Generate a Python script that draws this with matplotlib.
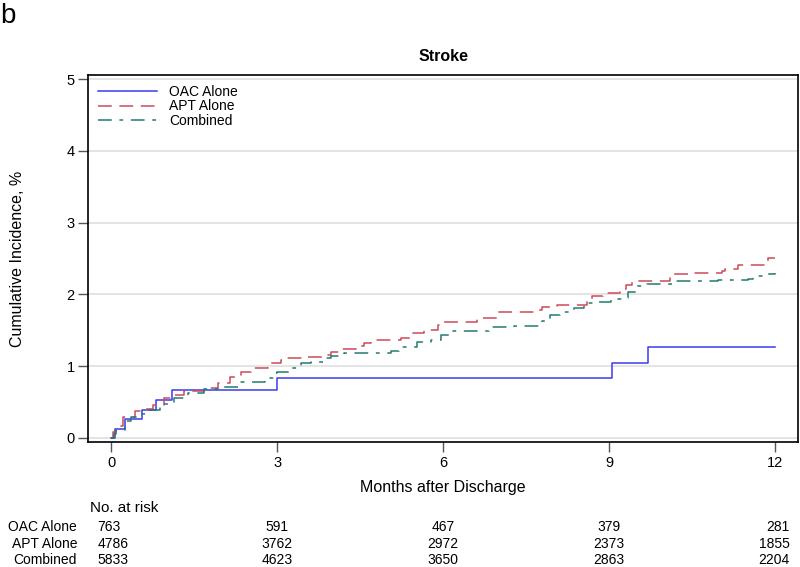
import matplotlib
matplotlib.use("Agg")
import matplotlib.pyplot as plt
import matplotlib.transforms as mtrans

plt.rcParams['font.family'] = ['Liberation Sans', 'DejaVu Sans']

# ---- data ----
oac_t = [0, 0.06, 0.25, 0.55, 0.80, 1.10, 3.00, 9.05, 9.70, 12.0]
oac_v = [0, 0.12, 0.26, 0.39, 0.53, 0.67, 0.83, 1.05, 1.27, 1.27]

apt_t = [0, 0.03, 0.09, 0.21, 0.42, 0.60, 0.75, 0.96, 1.11, 1.32, 1.68, 1.93, 2.15,
         2.35, 2.53, 2.83, 3.07, 3.16, 3.46, 3.85, 3.97, 4.15, 4.42, 4.57, 4.69, 5.23,
         5.42, 5.66, 5.90, 6.02, 6.62, 6.98, 7.64, 7.79, 8.06, 8.60, 8.69, 8.90, 9.20,
         9.30, 9.42, 10.10, 10.17, 10.44, 11.04, 11.10, 11.34, 11.88, 12.0]
apt_v = [0, 0.08, 0.16, 0.29, 0.37, 0.40, 0.46, 0.55, 0.60, 0.66, 0.69, 0.77, 0.85,
         0.92, 0.97, 1.04, 1.08, 1.11, 1.13, 1.16, 1.20, 1.24, 1.28, 1.32, 1.36, 1.39,
         1.46, 1.50, 1.57, 1.62, 1.67, 1.76, 1.78, 1.83, 1.85, 1.92, 1.98, 2.02, 2.07,
         2.13, 2.19, 2.25, 2.28, 2.30, 2.33, 2.35, 2.41, 2.50, 2.50]

comb_t = [0, 0.04, 0.09, 0.24, 0.36, 0.51, 0.66, 0.87, 1.14, 1.38, 1.68, 1.93, 2.35,
          2.77, 2.95, 3.00, 3.22, 3.43, 3.61, 3.85, 3.97, 4.21, 5.05, 5.20, 5.53, 5.78,
          5.96, 6.14, 6.83, 7.28, 7.79, 7.94, 8.12, 8.36, 8.54, 8.72, 9.03, 9.23, 9.35,
          9.50, 9.69, 10.17, 10.98, 11.52, 11.60, 11.80, 12.0]
comb_v = [0, 0.05, 0.11, 0.23, 0.29, 0.34, 0.39, 0.48, 0.55, 0.62, 0.68, 0.71, 0.78,
          0.83, 0.90, 0.92, 0.97, 1.04, 1.06, 1.11, 1.14, 1.18, 1.21, 1.27, 1.34, 1.37,
          1.43, 1.49, 1.54, 1.56, 1.63, 1.71, 1.76, 1.81, 1.88, 1.90, 1.93, 1.95, 2.04,
          2.11, 2.14, 2.19, 2.20, 2.22, 2.25, 2.29, 2.30]

groups = ["OAC Alone", "APT Alone", "Combined"]
x_ticks = [0, 3, 6, 9, 12]
y_ticks = [0, 1, 2, 3, 4, 5]
risk_oac = [763, 591, 467, 379, 281]
risk_apt = [4786, 3762, 2972, 2373, 1855]
risk_comb = [5833, 4623, 3650, 2863, 2204]

# ---- styles ----
c_oac = '#3b3bf2'
c_apt = '#cc4a58'
c_comb = '#227a6e'

fig = plt.figure(figsize=(8, 5.67), dpi=100)
ax = fig.add_axes([0.1106, 0.2205, 0.8869, 0.6472])

ax.plot(oac_t, oac_v, drawstyle='steps-post', color=c_oac, lw=1.1, label=groups[0])
ax.plot(apt_t, apt_v, drawstyle='steps-post', color=c_apt, lw=1.1,
        dashes=(9, 5), label=groups[1])
ax.plot(comb_t, comb_v, drawstyle='steps-post', color=c_comb, lw=1.1,
        dashes=(9, 5, 2.5, 5), label=groups[2])

ax.set_xlim(-0.415, 12.42)
ax.set_ylim(-0.056, 5.056)
ax.set_xticks(x_ticks)
ax.set_yticks(y_ticks)
ax.set_xticklabels([str(v) for v in x_ticks])
ax.set_yticklabels([str(v) for v in y_ticks])
ax.grid(axis='y', color='#e4e4e4', lw=1.4)
ax.set_axisbelow(True)
ax.tick_params(axis='both', direction='out', length=7, width=1, color='#555555',
               labelsize=10.5, pad=3)
for s in ax.spines.values():
    s.set_color('black')
    s.set_linewidth(1.2)

ax.set_xlabel("Months after Discharge", fontsize=11.5, labelpad=7)
ax.set_ylabel("Cumulative Incidence, %", fontsize=11.5, labelpad=30)
ax.set_title("Stroke", fontsize=11.5, fontweight='bold', pad=10)

leg = ax.legend(loc='upper left', frameon=False, fontsize=10, handlelength=4.2,
                handletextpad=0.9, labelspacing=0.05, borderaxespad=0.3,
                bbox_to_anchor=(0.0, 1.0))

fig.text(0.0, 0.995, "b", fontsize=20, ha='left', va='top')

# ---- number at risk table ----
trans = mtrans.blended_transform_factory(ax.transData, fig.transFigure)
fig.text(90 / 800, 1 - 508 / 567, "No. at risk", fontsize=11, ha='left', va='center')
row_y = [527, 544, 560]
rows = [risk_oac, risk_apt, risk_comb]
for name, vals, yy in zip(groups, rows, row_y):
    yf = 1 - yy / 567
    fig.text(77 / 800, yf, name, fontsize=10, ha='right', va='center')
    for j, (xt, v) in enumerate(zip(x_ticks, vals)):
        if j == 0:
            ax.text(-0.25, yf, str(v), transform=trans, fontsize=10, ha='left', va='center')
        elif j == len(x_ticks) - 1:
            ax.text(12.27, yf, str(v), transform=trans, fontsize=10, ha='right', va='center')
        else:
            ax.text(xt, yf, str(v), transform=trans, fontsize=10, ha='center', va='center')

fig.savefig("out.png", dpi=100)
